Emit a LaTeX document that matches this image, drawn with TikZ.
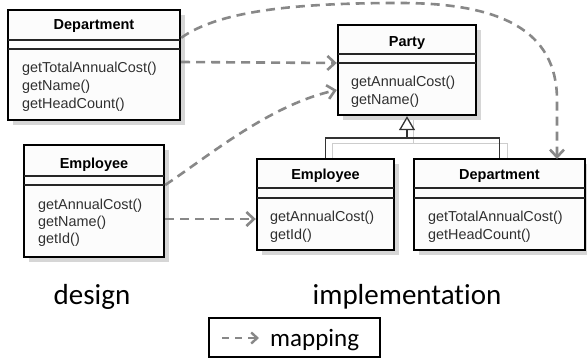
\documentclass[tikz,border=0pt]{standalone}
\usepackage{fontspec}
\setmainfont{Liberation Sans}
\newfontfamily\calfont[Ligatures=NoCommon]{Carlito}
\usetikzlibrary{arrows.meta,shadows}
\definecolor{mapgray}{HTML}{888888}
\definecolor{txtgray}{HTML}{303030}
\definecolor{boxfill}{HTML}{FCFCFC}
\definecolor{shadowgray}{HTML}{D6D6D6}
\definecolor{genshadow}{HTML}{CDCDCD}
\tikzset{
  umlbox/.style={draw=black, line width=2.4pt, fill=boxfill, inner sep=0pt,
    general shadow={shadow xshift=5pt, shadow yshift=-5pt, fill=shadowgray}},
  divider/.style={draw=black!85, line width=1.3pt},
  classtitle/.style={font=\bfseries\fontsize{14.5}{17}\selectfont, anchor=base, inner sep=0pt},
  method/.style={font=\fontsize{14.4}{17}\selectfont, text=txtgray, anchor=base west, inner sep=0pt},
  mapping/.style={draw=mapgray, line width=2.6pt, dash pattern=on 9pt off 6pt,
    -{Straight Barb[length=7.5pt,width=14pt]}},
  legendmap/.style={draw=mapgray, line width=2.4pt, dash pattern=on 7pt off 6pt,
    -{Straight Barb[length=6pt,width=11pt]}},
  gen/.style={draw=black!80, line width=1.4pt},
  genshadowline/.style={draw=genshadow, line width=1pt},
  bigword/.style={font=\calfont\fontsize{29}{34}\selectfont, anchor=base, inner sep=0pt},
}
\begin{document}
\begin{tikzpicture}[x=1pt,y=-1pt]
\useasboundingbox[fill=white] (0,0) rectangle (587,364);

% ---- design: Department
\node[umlbox, minimum width=172pt, minimum height=110pt] (ddept) at (94,65) {};
\draw[divider] (8,40) -- (180,40);
\draw[divider] (8,49) -- (180,49);
\node[classtitle] (ddeptT) at (94,30) {Department};
\node[method] (ddm1) at (22,72) {getTotalAnnualCost()};
\node[method] (ddm2) at (22,90) {getName()};
\node[method] (ddm3) at (22,108) {getHeadCount()};

% ---- design: Employee
\node[umlbox, minimum width=140pt, minimum height=112pt] (demp) at (94,201) {};
\draw[divider] (24,176) -- (164,176);
\draw[divider] (24,185) -- (164,185);
\node[classtitle] (dempT) at (94,168) {Employee};
\node[method] (dem1) at (38,209) {getAnnualCost()};
\node[method] (dem2) at (38,226) {getName()};
\node[method] (dem3) at (38,243) {getId()};

% ---- generalization shadow lines
\draw[genshadowline] (413,118) -- (413,143) (332,159) -- (332,143) -- (507,143) -- (507,159);

% ---- implementation: Party
\node[umlbox, minimum width=138pt, minimum height=90pt] (party) at (407,70) {};
\draw[divider] (338,54) -- (476,54);
\draw[divider] (338,63) -- (476,63);
\node[classtitle] (partyT) at (407,46) {Party};
\node[method] (pm1) at (351,86) {getAnnualCost()};
\node[method] (pm2) at (351,104) {getName()};

% ---- implementation: Employee
\node[umlbox, minimum width=137pt, minimum height=91pt] (iemp) at (325.5,204.5) {};
\draw[divider] (257,188) -- (394,188);
\draw[divider] (257,198) -- (394,198);
\node[classtitle] (iempT) at (325.5,179) {Employee};
\node[method] (iem1) at (270,221) {getAnnualCost()};
\node[method] (iem2) at (270,239) {getId()};

% ---- implementation: Department
\node[umlbox, minimum width=171pt, minimum height=91pt] (idept) at (499.5,204.5) {};
\draw[divider] (414,188) -- (585,188);
\draw[divider] (414,198) -- (585,198);
\node[classtitle] (ideptT) at (499.5,179) {Department};
\node[method] (idm1) at (428,221) {getTotalAnnualCost()};
\node[method] (idm2) at (428,239) {getHeadCount()};

% ---- generalization
\coordinate (gj) at (407,138);
\draw[gen] (iemp.north) |- (gj) -| (idept.north);
\draw[gen, -{Triangle[open, fill=white, length=14pt, width=16pt, line width=1.3pt]}] (gj) -- (party.south);

% ---- mapping connectors
\draw[mapping] ([yshift=3pt]ddept.east) -- ([yshift=7pt]party.west);
\coordinate (topend) at (557,159);
\draw[mapping] ([yshift=-29pt]ddept.north east)
  .. controls (220,10) and (300,3) .. (400,3)
  .. controls (500,3) and (557,30) .. (557,100) -- (topend);
\draw[mapping] ([yshift=16pt]demp.east) .. controls (210,155) and (270,105) .. ([yshift=-20pt]party.west);
\draw[mapping] ([yshift=-18pt]demp.east) -- ([yshift=-14.5pt]iemp.west);

% ---- captions
\node[bigword] (design) at (92,304) {design};
\node[bigword] (impl) at (407,304) {implementation};

% ---- legend
\node[draw=black, line width=2pt, fill=white, minimum width=171pt, minimum height=39pt, inner sep=0pt] (legend) at (294.5,337.5) {};
\coordinate (la) at (222,338);
\coordinate (lb) at (259,338);
\draw[legendmap] (la) -- (lb);
\node[font=\calfont\fontsize{25}{30}\selectfont, anchor=base west, inner sep=0pt] (lt) at (270,346) {mapping};
\end{tikzpicture}
\end{document}
